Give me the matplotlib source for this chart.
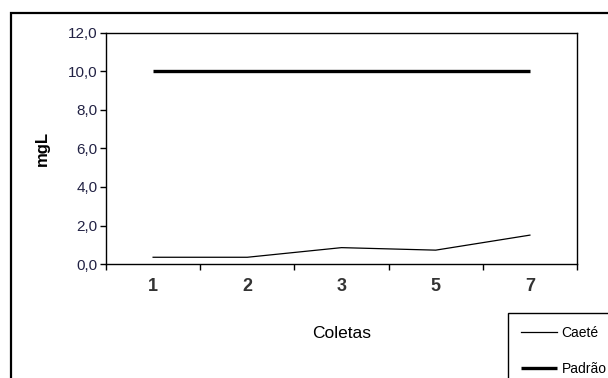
import matplotlib
matplotlib.use("Agg")
import matplotlib.pyplot as plt
from matplotlib.patches import Rectangle
from matplotlib.ticker import FixedLocator, FuncFormatter

categories = ["1", "2", "3", "5", "7"]
caete = [0.35, 0.35, 0.85, 0.72, 1.5]
padrao = [10.0, 10.0, 10.0, 10.0, 10.0]
yticks = [0, 2, 4, 6, 8, 10, 12]

FONT = ["Liberation Sans", "DejaVu Sans"]
plt.rcParams["font.family"] = FONT

W, H = 608, 378
fig = plt.figure(figsize=(W / 100, H / 100), dpi=100)
fig.patch.set_facecolor("white")

# outer chart frame (cropped at right and bottom)
fig.patches.append(Rectangle((11 / W, -0.2), 1.2, (H - 13) / H + 0.2,
                             transform=fig.transFigure, fill=False,
                             edgecolor="black", linewidth=1.6, clip_on=False))

ax = fig.add_axes([106 / W, 1 - 264 / H, (577 - 106) / W, (264 - 33) / H])
x = list(range(len(categories)))
l1, = ax.plot(x, caete, color="black", linewidth=0.9, label="Caeté")
l2, = ax.plot(x, padrao, color="black", linewidth=2.4, label="Padrão",
              solid_capstyle="butt")

ax.set_xlim(-0.5, len(categories) - 0.5)
ax.set_ylim(0, 12)
ax.yaxis.set_major_locator(FixedLocator(yticks))
ax.yaxis.set_major_formatter(FuncFormatter(lambda v, p: f"{v:.1f}".replace(".", ",")))
ax.xaxis.set_major_locator(FixedLocator([i - 0.5 for i in range(len(categories) + 1)]))
ax.xaxis.set_major_formatter(FuncFormatter(lambda v, p: ""))
ax.xaxis.set_minor_locator(FixedLocator(x))
ax.set_xticklabels(categories, minor=True)
ax.tick_params(axis="x", which="major", length=4, width=1, direction="out")
ax.tick_params(axis="x", which="minor", length=0, pad=10, labelsize=13)
ax.tick_params(axis="y", length=4, width=1, direction="out", labelsize=11, pad=2)
for lab in ax.get_xticklabels(minor=True):
    lab.set_fontweight("bold")
    lab.set_color("#333333")
for lab in ax.get_yticklabels():
    lab.set_color("#222244")
for s in ax.spines.values():
    s.set_color("black")
    s.set_linewidth(1.0)

fig.text(342 / W, 1 - 333 / H, "Coletas", ha="center", va="center", fontsize=12.5)
fig.text(42 / W, 1 - 148 / H, "mgL", ha="center", va="center", rotation=90,
         fontsize=12, fontweight="bold")

leg = fig.legend(handles=[l1, l2], labels=["Caeté", "Padrão"],
                 loc="upper left", bbox_to_anchor=(508 / W, 1 - 313 / H),
                 frameon=True, fancybox=False, edgecolor="black",
                 framealpha=1, borderaxespad=0, borderpad=0.95,
                 handlelength=2.6, handletextpad=0.3, labelspacing=1.55,
                 fontsize=10)
leg.get_frame().set_linewidth(1.0)

fig.savefig("out.png", dpi=100, facecolor="white")
